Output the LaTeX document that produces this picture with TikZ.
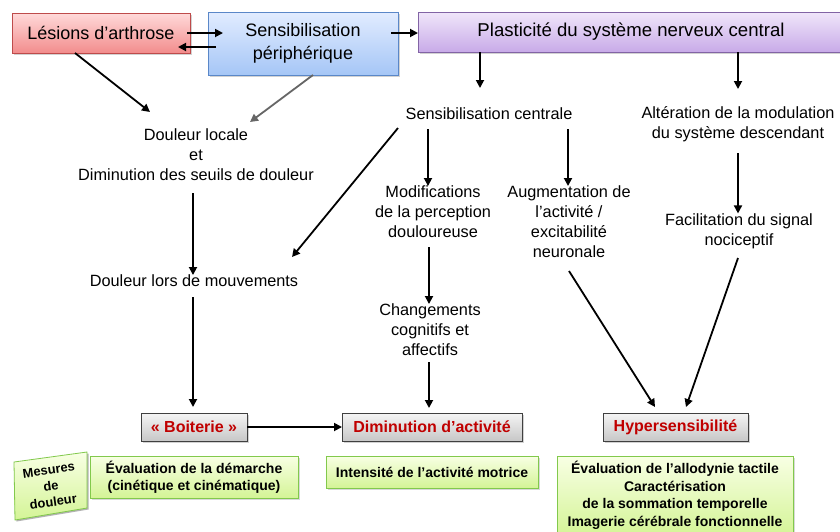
\documentclass[tikz,border=0pt]{standalone}
\usepackage{fontspec}
\setmainfont{Liberation Sans}
\usetikzlibrary{arrows.meta,shadows}
\definecolor{redtxt}{HTML}{C00000}
\begin{document}
\begin{tikzpicture}[x=1pt,y=-1pt,
  every node/.style={inner sep=0pt, outer sep=0pt},
  conn/.style={line width=1.8pt, -{Triangle[length=8pt,width=8pt]}},
  conngray/.style={conn, draw=black!60},
  titlebox/.style={draw, line width=0.8pt, font=\fontsize{18}{21}\selectfont, align=center,
    drop shadow={shadow xshift=1.5pt, shadow yshift=-1.5pt, opacity=0.35}},
  lbl/.style={font=\fontsize{16.3}{20}\selectfont, align=center},
  outbox/.style={draw=black!75, line width=1pt, top color=white!96!black, bottom color=black!22,
    text=redtxt, font=\bfseries\fontsize{16}{19}\selectfont,
    drop shadow={shadow xshift=1.5pt, shadow yshift=-1.5pt, opacity=0.35}},
  measfill/.style={draw=green!40!olive!70, line width=0.8pt, top color={rgb,255:red,248;green,255;blue,228},
    bottom color={rgb,255:red,212;green,244;blue,150}},
  measbox/.style={measfill, font=\bfseries\fontsize{14}{17.5}\selectfont, align=center,
    drop shadow={shadow xshift=1.5pt, shadow yshift=-1.5pt, opacity=0.3}}
]
\useasboundingbox (0,0) rectangle (840,531);
\fill[white] (0,0) rectangle (840,531);

% Top row boxes
\node[titlebox, draw={rgb,255:red,190;green,75;blue,75},
  top color={rgb,255:red,255;green,218;blue,218}, bottom color={rgb,255:red,242;green,140;blue,140},
  minimum width=178pt, minimum height=40pt] (les) at (101,33) {Lésions d’arthrose};
\node[titlebox, draw={rgb,255:red,90;green,135;blue,200},
  top color={rgb,255:red,226;green,236;blue,255}, bottom color={rgb,255:red,165;green,198;blue,246},
  minimum width=190pt, minimum height=63pt] (sp) at (303,43.5) {Sensibilisation\\[2pt]périphérique};
\node[titlebox, draw={rgb,255:red,130;green,100;blue,165},
  top color={rgb,255:red,240;green,230;blue,250}, bottom color={rgb,255:red,200;green,170;blue,232},
  minimum width=440pt, minimum height=40pt] (pl) at (638,32) {};
\node[font=\fontsize{18.6}{21}\selectfont] (plt) at (631,32) {Plasticité du système nerveux central};

% Text labels
\node[lbl] (dl) at (196,155) {Douleur locale\\et\\Diminution des seuils de douleur};
\node[lbl] (sc) at (489,114) {Sensibilisation centrale};
\node[lbl] (alt) at (738,124) {Altération de la modulation\\du système descendant};
\node[lbl] (mod) at (433,212) {Modifications\\de la perception\\douloureuse};
\node[lbl] (aug) at (569,222) {Augmentation de\\l’activité /\\excitabilité\\neuronale};
\node[lbl] (fac) at (739,231) {Facilitation du signal\\nociceptif};
\node[lbl] (dm) at (194,281) {Douleur lors de mouvements};
\node[lbl] (chg) at (430,330) {Changements\\cognitifs et\\affectifs};

% Outcome boxes
\node[outbox, minimum width=106pt, minimum height=28pt] (boit) at (194,427) {« Boiterie »};
\node[outbox, minimum width=180pt, minimum height=28pt] (dim) at (432,427) {Diminution d’activité};
\node[outbox, minimum width=145pt, minimum height=28pt] (hyp) at (675.5,427) {Hypersensibilité};

% Measurement boxes
\node[measbox, minimum width=208pt, minimum height=42pt] (m1) at (194,477) {Évaluation de la démarche\\(cinétique et cinématique)};
\node[measbox, minimum width=212pt, minimum height=32pt] (m2) at (432,472) {Intensité de l’activité motrice};
\node[measbox, minimum width=236pt, minimum height=80pt, anchor=north] (m3) at (675,456) {};
\node[font=\bfseries\fontsize{14}{17.5}\selectfont, align=center] (m3t) at (675,495.5)
  {Évaluation de l’allodynie tactile\\Caractérisation\\de la sommation temporelle\\Imagerie cérébrale fonctionnelle};

% Tilted tag
\coordinate (t1) at (14,462);
\coordinate (t2) at (87,452);
\coordinate (t3) at (87,508);
\coordinate (t4) at (15,520);
\fill[black, opacity=0.3] ([shift={(1.5,1.5)}]t1) -- ([shift={(1.5,1.5)}]t2) -- ([shift={(1.5,1.5)}]t3) -- ([shift={(1.5,1.5)}]t4) -- cycle;
\draw[measfill] (t1) -- (t2) -- (t3) -- (t4) -- cycle;
\node[rotate=8, font=\bfseries\fontsize{12.9}{16}\selectfont, align=center] (tag) at (51,486) {Mesures\\de\\douleur};

% Connectors
\draw[conn] ([xshift=-3pt]les.east) -- ([xshift=15pt,yshift=10.5pt]sp.west);
\draw[conn] ([xshift=8pt,yshift=-3.5pt]sp.west) -- ([xshift=-12pt,yshift=-14pt]les.east);
\draw[conn] ([xshift=-7pt,yshift=10.5pt]sp.east) -- ([yshift=-1pt]pl.west);
\draw[conn] (les.south -| 75,0) -- (150,112);
\draw[conngray] (sp.south -| 313,0) -- (250,122);
\draw[conn] (pl.south -| 480,0) -- (480,88);
\draw[conn] (pl.south -| 738,0) -- (738,89);
\draw[conn] (428,129) -- (mod.north -| 428,0);
\draw[conn] (568,129) -- (aug.north -| 568,0);
\draw[conn] (398,128) -- (292,257);
\draw[conn] (738,153) -- (fac.north -| 738,0);
\draw[conn] (193,193) -- (dm.north -| 193,0);
\draw[conn] (193,297) -- ([yshift=6pt]boit.north -| 193,0);
\draw[conn] (429,247) -- (chg.north -| 429,0);
\draw[conn] (429,362) -- ([yshift=5pt]dim.north -| 429,0);
\draw[conn] (569,271) -- ([yshift=6pt]hyp.north -| 655,0);
\draw[conn] (738,258) -- ([yshift=6pt]hyp.north -| 686,0);
\draw[conn] (boit.east) -- (dim.west);
\end{tikzpicture}
\end{document}
